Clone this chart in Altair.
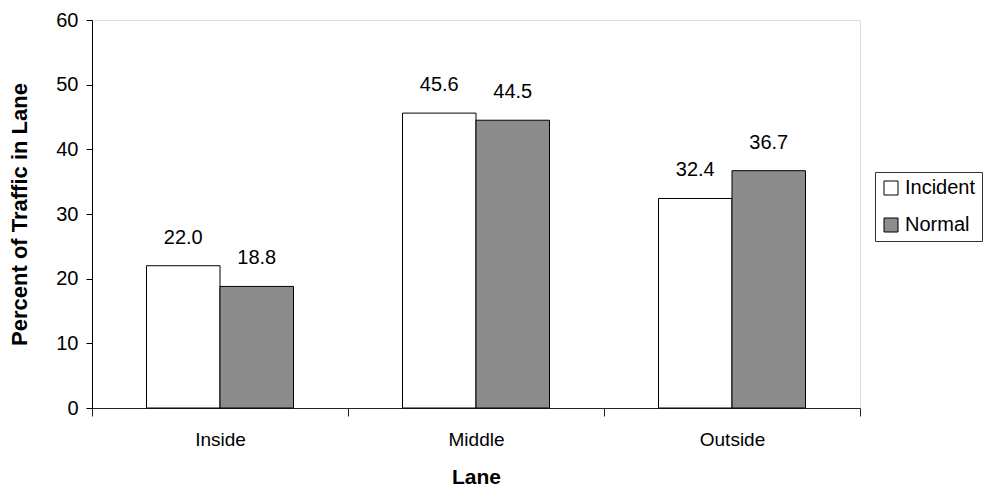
import altair as alt
import pandas as pd

lanes = ["Inside", "Middle", "Outside"]
series = ["Incident", "Normal"]
incident = [22.0, 45.6, 32.4]
normal = [18.8, 44.5, 36.7]
y_ticks = [0, 10, 20, 30, 40, 50, 60]

rows = []
for i, lane in enumerate(lanes):
    rows.append({"Lane": lane, "Series": "Incident", "Value": incident[i]})
    rows.append({"Lane": lane, "Series": "Normal", "Value": normal[i]})
df = pd.DataFrame(rows)

FONT = "Liberation Sans"

x = alt.X("Lane:N", sort=lanes, title="Lane",
          scale=alt.Scale(paddingInner=0, paddingOuter=0),
          axis=alt.Axis(labelAngle=0, tickBand="extent", tickSize=8,
                        labelPadding=14, titlePadding=17,
                        labelFontSize=19, titleFontSize=21,
                        labelFont=FONT, titleFont=FONT,
                        titleFontWeight="bold", domainColor="#222",
                        tickColor="#222", labelColor="black", titleColor="black"))
xo = alt.XOffset("Series:N", sort=series,
                 scale=alt.Scale(paddingInner=0, paddingOuter=0.7415))
y = alt.Y("Value:Q", title="Percent of Traffic in Lane",
          scale=alt.Scale(domain=[0, 60], nice=False),
          axis=alt.Axis(values=y_ticks, format="d", grid=False, tickSize=6,
                        labelPadding=8, titlePadding=24,
                        labelFontSize=20, titleFontSize=22,
                        labelFont=FONT, titleFont=FONT,
                        titleFontWeight="bold", domainColor="black",
                        tickColor="black", labelColor="black", titleColor="black"))

bars = alt.Chart(df).mark_bar(stroke="black", strokeWidth=1).encode(
    x=x, xOffset=xo, y=y,
    color=alt.Color("Series:N", sort=series,
                    scale=alt.Scale(domain=series, range=["white", "#8c8c8c"]),
                    legend=alt.Legend(title=None, orient="none", legendX=783, legendY=152,
                                      symbolType="square", symbolSize=196,
                                      symbolStrokeColor="black", symbolStrokeWidth=1,
                                      labelFontSize=20, labelFont=FONT, labelColor="black",
                                      rowPadding=17, padding=6,
                                      strokeColor="#333", fillColor="white",
                                      labelOffset=4)),
)

labels = alt.Chart(df).mark_text(baseline="bottom", dy=-18, fontSize=20,
                                 font=FONT, color="black").encode(
    x=alt.X("Lane:N", sort=lanes), xOffset=alt.XOffset("Series:N", sort=series),
    y=alt.Y("Value:Q"),
    text=alt.Text("Value:Q", format=".1f"),
)

chart = (bars + labels).properties(
    width=768, height=388,
    autosize=alt.AutoSizeParams(type="none"),
    padding={"left": 84, "top": 12, "right": 126, "bottom": 81},
).configure_view(stroke="#888", strokeWidth=1).configure(background="white")

chart.save("out.html", embed_options={"renderer": "svg", "actions": False})
